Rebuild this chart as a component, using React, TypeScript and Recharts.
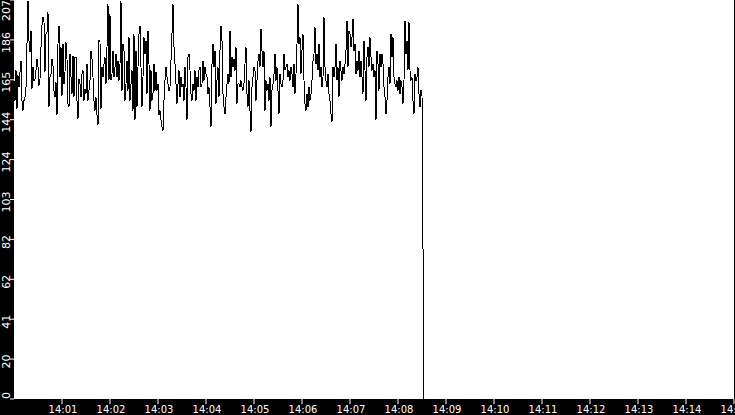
import React from "react";
import { LineChart, Line, XAxis, YAxis, CartesianGrid } from "recharts";

// Sampled values (one sample every 1.25 s starting 14:00:00)
const valuesPart1 = [
  165.3, 154.9, 170.5, 150.6, 167.9, 161.8, 169.6, 175.6, 154.9, 149.7,
  154.9, 156.6, 161.8, 184.3, 206.7, 186.0, 180.0, 191.2, 161.0, 172.2,
  165.3, 166.1, 170.5, 176.5, 172.2, 162.7, 166.1, 182.6, 193.8, 198.1,
  195.5, 169.6, 189.5, 190.3, 200.7, 151.5, 167.0, 168.7, 176.5, 173.1,
  160.1, 156.6, 164.4, 147.2, 184.3, 193.8, 167.0, 182.6, 157.5, 184.3,
  163.6, 169.6, 185.1, 176.5, 153.2, 151.5, 179.1, 167.0, 158.4, 178.2,
  156.6, 177.4, 177.4, 154.9, 145.4, 166.1, 163.6, 156.6, 168.7, 170.5,
  154.9, 161.0, 158.4, 173.9, 154.9, 160.1, 165.3, 180.8, 176.5,
];
const valuesPart2 = [
  167.0, 154.9, 149.7, 156.6, 147.2, 142.0, 186.0, 185.1, 150.6, 172.2,
  167.0, 173.9, 177.4, 163.6, 182.6, 205.0, 165.3, 199.8, 165.3, 168.7,
  180.8, 167.0, 172.2, 179.1, 167.0, 175.6, 165.3, 173.9, 206.7, 160.1,
  184.3, 180.8, 154.9, 163.6, 175.6, 160.1, 187.7, 154.9, 163.6, 170.5,
  149.7, 189.5, 144.6, 180.8, 151.5, 172.2, 189.5, 193.8, 172.2, 151.5,
  167.0, 187.7, 179.1, 186.0, 158.4, 191.2, 173.9, 149.7, 170.5, 154.9,
  158.4, 173.9, 160.1, 169.6, 160.1, 163.6, 147.2, 149.7, 144.6, 141.1,
  139.4, 154.9, 165.3, 172.2, 167.0, 163.6, 160.1, 161.8, 175.6, 189.5,
  205.0, 182.6, 173.9, 163.6, 153.2, 163.6,
];
const valuesPart3 = [
  170.5, 156.6, 167.0, 161.8, 163.6, 154.9, 172.2, 161.8, 144.6, 177.4,
  179.1, 170.5, 158.4, 154.9, 163.6, 160.1, 170.5, 154.9, 167.0, 161.8,
  170.5, 172.2, 161.8, 163.6, 175.6, 165.3, 172.2, 168.7, 167.0, 158.4,
  161.8, 151.5, 141.1, 173.9, 184.3, 172.2, 180.8, 153.2, 165.3, 172.2,
  156.6, 180.8, 193.8, 186.0, 158.4, 151.5, 148.0, 156.6, 163.6, 168.7,
  163.6, 191.2, 167.0, 177.4, 172.2, 176.5, 170.5, 182.6, 153.2, 163.6,
  163.6, 161.8, 165.3, 161.8, 160.1, 163.6, 173.9, 182.6, 158.4, 151.5,
  165.3, 149.7, 138.5, 161.8, 167.0, 172.2, 170.5, 154.9, 165.3, 175.6,
  179.1, 172.2, 192.1, 180.8, 172.2,
];
const valuesPart4 = [
  180.8, 149.7, 165.3, 160.1, 163.6, 154.9, 167.0, 141.1, 160.1, 163.6,
  168.7, 179.1, 165.3, 172.2, 160.1, 148.0, 168.7, 163.6, 161.8, 165.3,
  179.1, 170.5, 172.2, 173.9, 167.0, 170.5, 165.3, 172.2, 168.7, 161.8,
  173.9, 158.4, 168.7, 184.3, 205.0, 184.3, 187.7, 168.7, 180.8, 189.5,
  165.3, 153.2, 149.7, 158.4, 151.5, 161.8, 154.9, 158.4, 165.3, 175.6,
  179.1, 192.9, 173.9, 179.1, 170.5, 184.3, 167.0, 172.2, 161.8, 167.0,
  198.1, 172.2, 165.3, 161.8, 168.7, 158.4, 154.9, 148.0, 143.7, 172.2,
  167.0, 172.2, 184.3, 165.3, 172.2, 156.6, 175.6, 170.5, 165.3, 172.2,
  168.7, 173.9, 180.8, 196.4, 172.2,
];
const valuesPart5 = [
  191.2, 189.5, 182.6, 187.7, 197.2, 180.8, 184.3, 168.7, 175.6, 170.5,
  180.8, 167.0, 175.6, 167.0, 158.4, 186.0, 170.5, 154.9, 177.4, 182.6,
  172.2, 187.7, 177.4, 170.5, 173.9, 167.0, 170.5, 144.6, 180.8, 173.9,
  160.1, 179.1, 172.2, 179.1, 173.9, 161.8, 156.6, 148.0, 154.9, 167.0,
  172.2, 163.6, 189.5, 177.4, 187.7, 167.0, 163.6, 161.8, 165.3, 160.1,
  167.0, 158.4, 165.3, 161.8, 153.2, 165.3, 196.4, 179.1, 186.0, 170.5,
  195.5, 170.5, 165.3, 167.0, 154.9, 148.0, 168.7, 165.3, 167.0, 172.2,
  158.4, 151.5, 160.1, 157.5,
];
const dropValues = [77.7, 0];

const SAMPLE_SECONDS = 1.25;

const xTicks = [60, 120, 180, 240, 300, 360, 420, 480, 540, 600, 660, 720, 780, 840, 900];
const xTickLabels = [
  "14:01", "14:02", "14:03", "14:04", "14:05", "14:06", "14:07", "14:08",
  "14:09", "14:10", "14:11", "14:12", "14:13", "14:14", "14:15",
];
const xDomain = [0, 900];

const yMax = 207.07;
const yTicks = [0, 20.707, 41.414, 62.121, 82.828, 103.535, 124.242, 144.949, 165.656, 186.363, 207.07];
const yTickLabels = ["0", "20", "41", "62", "82", "103", "124", "144", "165", "186", "207"];

const allValues = [
  ...valuesPart1,
  ...valuesPart2,
  ...valuesPart3,
  ...valuesPart4,
  ...valuesPart5,
  ...dropValues,
];
const data = allValues.map((v, i) => ({ t: i * SAMPLE_SECONDS, v }));

const FONT = "'DejaVu Sans', sans-serif";

function YTick(props: any) {
  const { x, y, index } = props;
  const label = yTickLabels[index];
  let anchor: "start" | "middle" | "end" = "middle";
  let ty = y + 2.5;
  if (index === 0) {
    anchor = "start";
    ty = y;
  } else if (index === yTickLabels.length - 1) {
    anchor = "end";
    ty = y;
  }
  return (
    <text
      x={x}
      y={ty}
      transform={`rotate(-90, ${x}, ${ty})`}
      textAnchor={anchor}
      fill="#fff"
      fontSize={11}
      fontFamily={FONT}
    >
      {label}
    </text>
  );
}

function XTick(props: any) {
  const { x, y, index } = props;
  return (
    <text
      x={x + 1}
      y={y}
      dy="0.71em"
      textAnchor="middle"
      fill="#fff"
      fontSize={10}
      fontFamily={FONT}
    >
      {xTickLabels[index]}
    </text>
  );
}

export default function App() {
  return (
    <div
      style={{
        position: "absolute",
        left: 0,
        top: 0,
        width: 735,
        height: 415,
        background: "#000",
      }}
    >
      <style>{`.recharts-line-curve { shape-rendering: crispEdges; }`}</style>
      <LineChart
        width={735}
        height={415}
        data={data}
        margin={{ top: 0, right: 1, bottom: 0, left: 0 }}
      >
        <CartesianGrid fill="#fff" stroke="none" horizontal={false} vertical={false} />
        <XAxis
          dataKey="t"
          type="number"
          domain={xDomain}
          ticks={xTicks}
          interval={0}
          height={16}
          axisLine={false}
          tickLine={{ stroke: "#fff" }}
          tickSize={5}
          tickMargin={2}
          tick={<XTick />}
          allowDataOverflow
        />
        <YAxis
          type="number"
          domain={[0, yMax]}
          ticks={yTicks}
          interval={0}
          width={14}
          axisLine={false}
          tickLine={{ stroke: "#fff" }}
          tickSize={4}
          tickMargin={0}
          tick={<YTick />}
          allowDataOverflow
        />
        <Line
          type="linear"
          dataKey="v"
          stroke="#000"
          strokeWidth={1}
          dot={false}
          isAnimationActive={false}
        />
      </LineChart>
    </div>
  );
}
